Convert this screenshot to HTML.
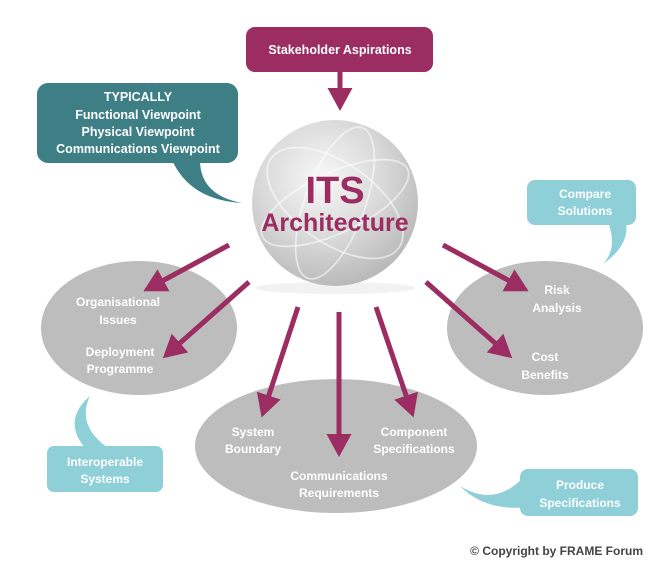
<!DOCTYPE html>
<html><head><meta charset="utf-8"><style>
html,body{margin:0;padding:0;background:#fff;width:672px;height:580px;overflow:hidden}
svg text{font-family:"Liberation Sans","DejaVu Sans",sans-serif;font-weight:bold}
</style></head><body>
<svg width="672" height="580" viewBox="0 0 672 580" xmlns="http://www.w3.org/2000/svg">
<defs>
<radialGradient id="sp" cx="0.42" cy="0.35" r="0.7">
<stop offset="0" stop-color="#f8f8f8"/><stop offset="0.55" stop-color="#d8d8d8"/><stop offset="1" stop-color="#b5b5b5"/>
</radialGradient>
<marker id="ah" markerWidth="4.6" markerHeight="5" refX="2.4" refY="2.5" orient="auto" markerUnits="strokeWidth">
<path d="M0,0 L4.6,2.5 L0,5 Z" fill="#9b2d62"/></marker>
</defs>
<ellipse cx="139" cy="328" rx="98" ry="67" fill="#bdbdbd"/>
<ellipse cx="545" cy="328" rx="98" ry="67" fill="#bdbdbd"/>
<ellipse cx="336" cy="446" rx="141" ry="67" fill="#bdbdbd"/>
<ellipse cx="335" cy="288" rx="80" ry="6" fill="#f2f2f2"/>
<circle cx="335" cy="203" r="83" fill="url(#sp)"/>
<g fill="none" stroke="#fff" stroke-opacity="0.55" stroke-width="1.8">
<ellipse cx="335" cy="203" rx="80" ry="30" transform="rotate(-25 335 203)"/>
<ellipse cx="335" cy="203" rx="78" ry="40" transform="rotate(35 335 203)"/>
<ellipse cx="335" cy="203" rx="30" ry="80" transform="rotate(20 335 203)"/>
</g>
<text x="335" y="203" font-size="38" fill="#9b2d62" text-anchor="middle">ITS</text>
<text x="335" y="231" font-size="25" fill="#9b2d62" text-anchor="middle">Architecture</text>
<rect x="246" y="27" width="187" height="45" rx="9" fill="#9b2d62"/>
<text x="340" y="54" font-size="12.5" fill="#fff" text-anchor="middle">Stakeholder Aspirations</text>
<line x1="340" y1="72" x2="340" y2="100" stroke="#9b2d62" stroke-width="5" marker-end="url(#ah)"/>
<path d="M172,160 Q190,200 242,203 Q200,195 200,160 Z" fill="#3d7f85"/>
<rect x="37" y="83" width="201" height="80" rx="11" fill="#3d7f85"/>
<g font-size="12.5" fill="#fff" text-anchor="middle">
<text x="138" y="101">TYPICALLY</text>
<text x="138" y="119">Functional Viewpoint</text>
<text x="138" y="136">Physical Viewpoint</text>
<text x="138" y="153">Communications Viewpoint</text>
</g>
<path d="M608,222 Q618,248 603,264 Q630,245 626,222 Z" fill="#8ecfd8"/>
<rect x="527" y="180" width="109" height="45" rx="8" fill="#8ecfd8"/>
<text x="585" y="198" font-size="12" fill="#fff" text-anchor="middle">Compare</text>
<text x="585" y="215" font-size="12" fill="#fff" text-anchor="middle">Solutions</text>
<path d="M85,448 Q62,420 90,396 Q76,425 108,448 Z" fill="#8ecfd8"/>
<rect x="47" y="446" width="116" height="46" rx="7" fill="#8ecfd8"/>
<text x="105" y="466" font-size="12" fill="#fff" text-anchor="middle">Interoperable</text>
<text x="105" y="483" font-size="12" fill="#fff" text-anchor="middle">Systems</text>
<path d="M525,476 Q495,508 460,486 Q485,512 530,507 Z" fill="#8ecfd8"/>
<rect x="520" y="469" width="118" height="47" rx="8" fill="#8ecfd8"/>
<text x="580" y="489" font-size="12" fill="#fff" text-anchor="middle">Produce</text>
<text x="580" y="507" font-size="12" fill="#fff" text-anchor="middle">Specifications</text>
<g stroke="#9b2d62" stroke-width="5" marker-end="url(#ah)">
<line x1="229" y1="245" x2="153" y2="286"/>
<line x1="249" y1="282" x2="171" y2="351"/>
<line x1="298" y1="307" x2="265" y2="407"/>
<line x1="339" y1="312" x2="339" y2="446"/>
<line x1="376" y1="307" x2="410" y2="407"/>
<line x1="443" y1="245" x2="519" y2="286"/>
<line x1="426" y1="282" x2="504" y2="351"/>
</g>
<g font-size="12" fill="#fff" text-anchor="middle">
<text x="118" y="306">Organisational</text><text x="118" y="324">Issues</text>
<text x="120" y="356">Deployment</text><text x="120" y="373">Programme</text>
<text x="557" y="294">Risk</text><text x="557" y="312">Analysis</text>
<text x="545" y="361">Cost</text><text x="545" y="379">Benefits</text>
<text x="253" y="436">System</text><text x="253" y="453">Boundary</text>
<text x="414" y="436">Component</text><text x="414" y="453">Specifications</text>
<text x="339" y="480">Communications</text><text x="339" y="497">Requirements</text>
</g>
<text x="643" y="555" font-size="12" fill="#444" text-anchor="end">© Copyright by FRAME Forum</text>
</svg>
</body></html>
